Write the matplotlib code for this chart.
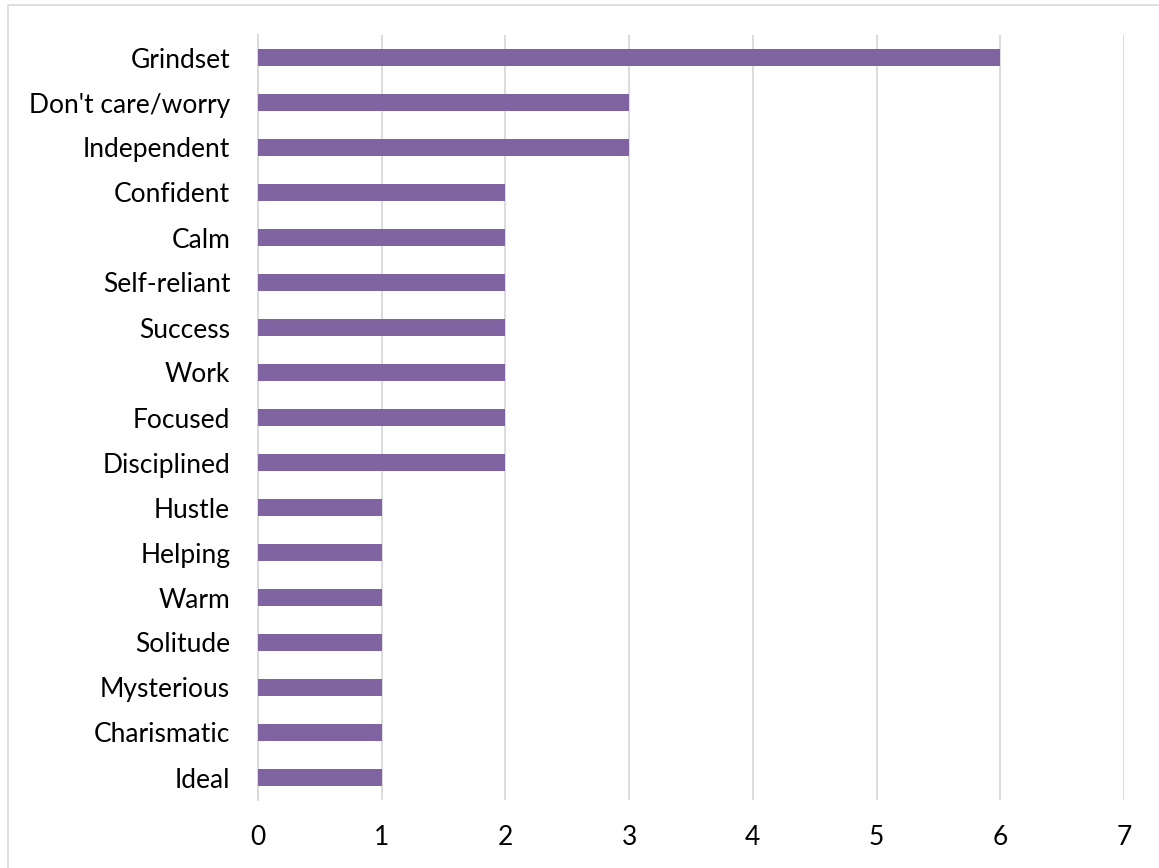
import matplotlib
matplotlib.use("Agg")
import matplotlib.pyplot as plt
from matplotlib.patches import Rectangle

categories = ["Grindset", "Don't care/worry", "Independent", "Confident", "Calm",
              "Self-reliant", "Success", "Work", "Focused", "Disciplined",
              "Hustle", "Helping", "Warm", "Solitude", "Mysterious",
              "Charismatic", "Ideal"]
values = [6, 3, 3, 2, 2, 2, 2, 2, 2, 2, 1, 1, 1, 1, 1, 1, 1]
xticks = [0, 1, 2, 3, 4, 5, 6, 7]

plt.rcParams['font.family'] = ['Lato', 'DejaVu Sans']

W, H = 1159, 868
fig = plt.figure(figsize=(W/100, H/100), dpi=100)
fig.patches.append(Rectangle((8/W, -0.1), 1.2, (868-5)/H + 0.1, transform=fig.transFigure,
                             fill=False, edgecolor='#D9D9D9', linewidth=1.2))
ax = fig.add_axes([258/W, 1-800/H, (1124-258)/W, (800-35)/H])

y = list(range(len(categories)))
ax.barh(y, values, height=0.36, color='#8064A2', zorder=3)
ax.set_ylim(len(categories)-0.5, -0.5)
ax.set_xlim(0, 7)
ax.set_xticks(xticks)
ax.set_xticklabels([str(t) for t in xticks])
ax.set_yticks(y)
ax.set_yticklabels(categories)
ax.grid(axis='x', color='#D9D9D9', linewidth=1.3, zorder=0)
for s in ['top', 'right', 'bottom']:
    ax.spines[s].set_visible(False)
ax.spines['left'].set_color('#D9D9D9')
ax.spines['left'].set_linewidth(1.3)
ax.tick_params(axis='both', length=0, labelsize=19, colors='black')
ax.tick_params(axis='y', pad=20)
ax.tick_params(axis='x', pad=18)

fig.savefig("out.png", dpi=100)
